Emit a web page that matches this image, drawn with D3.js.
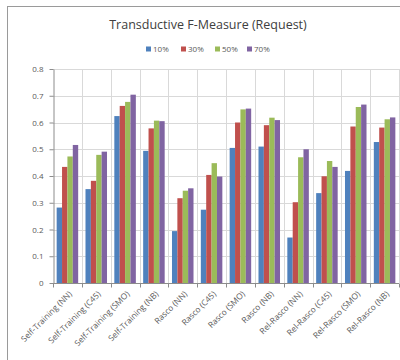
<!DOCTYPE html>
<html>
<head>
<meta charset="utf-8">
<script src="https://cdn.jsdelivr.net/npm/d3@7"></script>
<style>
  html, body { margin: 0; padding: 0; background: #fff; }
  svg { display: block; font-family: "Open Sans", "Liberation Sans", sans-serif; }
</style>
</head>
<body>
<svg id="chart" width="400" height="360"></svg>
<script>
// Classifier / method combinations on the x axis
const categories = [
  "Self-Training (NN)", "Self-Training (C45)", "Self-Training (SMO)", "Self-Training (NB)",
  "Rasco (NN)", "Rasco (C45)", "Rasco (SMO)", "Rasco (NB)",
  "Rel-Rasco (NN)", "Rel-Rasco (C45)", "Rel-Rasco (SMO)", "Rel-Rasco (NB)"
];

// Labeled-data ratios (one series each)
const seriesNames = ["10%", "30%", "50%", "70%"];
const seriesColors = ["#4F81BD", "#C0504D", "#9BBB59", "#8064A2"];

// F-measure values per series, in category order
const values10 = [0.282, 0.351, 0.624, 0.494, 0.194, 0.274, 0.505, 0.510, 0.170, 0.336, 0.419, 0.527];
const values30 = [0.434, 0.382, 0.662, 0.578, 0.317, 0.404, 0.600, 0.590, 0.302, 0.399, 0.585, 0.581];
const values50 = [0.473, 0.479, 0.677, 0.607, 0.345, 0.448, 0.649, 0.618, 0.470, 0.456, 0.658, 0.612];
const values70 = [0.516, 0.491, 0.704, 0.605, 0.354, 0.398, 0.652, 0.609, 0.500, 0.434, 0.667, 0.619];

const yTicks = [0, 0.1, 0.2, 0.3, 0.4, 0.5, 0.6, 0.7, 0.8];
const titleText = "Transductive F-Measure (Request)";

const seriesValues = [values10, values30, values50, values70];
const rows = categories.map((c, i) => ({
  category: c,
  vals: seriesNames.map((s, k) => ({ key: s, value: seriesValues[k][i], color: seriesColors[k] }))
}));

const svg = d3.select("#chart");

// chart frame
svg.append("rect")
  .attr("x", 7.5).attr("y", 6.5)
  .attr("width", 420).attr("height", 380)
  .attr("fill", "#fff")
  .attr("stroke", "#9a9a9a")
  .attr("stroke-width", 1);

const plot = { left: 53, right: 399, top: 69, bottom: 283 };

const x = d3.scaleBand()
  .domain(categories)
  .range([plot.left, plot.right])
  .paddingInner(0)
  .paddingOuter(0);

const xs = d3.scaleBand()
  .domain(seriesNames)
  .range([0, x.bandwidth()])
  .paddingInner(0)
  .paddingOuter(0.68);

const y = d3.scaleLinear()
  .domain([0, 0.8])
  .range([plot.bottom, plot.top]);

// horizontal gridlines
svg.append("g")
  .selectAll("line")
  .data(yTicks.filter(t => t > 0))
  .join("line")
  .attr("x1", plot.left).attr("x2", plot.right)
  .attr("y1", d => Math.round(y(d)) + 0.5)
  .attr("y2", d => Math.round(y(d)) + 0.5)
  .attr("stroke", "#d9d9d9");

// vertical gridlines between categories
const boundaries = categories.map(c => x(c)).concat([plot.right]).slice(1);
svg.append("g")
  .selectAll("line")
  .data(boundaries)
  .join("line")
  .attr("x1", d => Math.round(d) + 0.5).attr("x2", d => Math.round(d) + 0.5)
  .attr("y1", plot.top).attr("y2", plot.bottom)
  .attr("stroke", "#d9d9d9");

// bars
const groups = svg.append("g")
  .selectAll("g")
  .data(rows)
  .join("g")
  .attr("transform", d => `translate(${x(d.category)},0)`);

groups.selectAll("rect")
  .data(d => d.vals)
  .join("rect")
  .attr("x", d => xs(d.key))
  .attr("width", xs.bandwidth())
  .attr("y", d => y(d.value))
  .attr("height", d => y(0) - y(d.value))
  .attr("fill", d => d.color);

// y axis
const yAxis = svg.append("g")
  .attr("transform", `translate(${plot.left + 0.5},0)`)
  .call(d3.axisLeft(y).tickValues(yTicks).tickFormat(d => d === 0 ? "0" : d3.format(".1f")(d)).tickSizeOuter(0).tickSizeInner(4).tickPadding(6));
yAxis.select(".domain").attr("stroke", "#8c8c8c");
yAxis.selectAll(".tick line").attr("stroke", "#8c8c8c");
yAxis.selectAll(".tick text")
  .attr("fill", "#595959")
  .style("font-size", "8px")
  .style("font-family", "'Open Sans', sans-serif");

// x axis baseline and boundary tick marks
const xAxis = svg.append("g")
  .attr("transform", `translate(0,${plot.bottom + 0.5})`);
xAxis.append("line")
  .attr("x1", plot.left).attr("x2", plot.right)
  .attr("stroke", "#8c8c8c");
xAxis.selectAll("line.tk")
  .data([plot.left].concat(boundaries))
  .join("line")
  .attr("class", "tk")
  .attr("x1", d => Math.round(d) + 0.5).attr("x2", d => Math.round(d) + 0.5)
  .attr("y1", 0).attr("y2", 4)
  .attr("stroke", "#8c8c8c");

// rotated category labels
xAxis.selectAll("text")
  .data(categories)
  .join("text")
  .attr("transform", d => `translate(${x(d) + x.bandwidth() / 2 + 3},${9}) rotate(-45)`)
  .attr("text-anchor", "end")
  .attr("dy", "0.35em")
  .attr("fill", "#595959")
  .style("font-size", "8.3px")
  .text(d => d);

// title
svg.append("text")
  .attr("x", 208)
  .attr("y", 29)
  .attr("text-anchor", "middle")
  .attr("fill", "#404040")
  .style("font-size", "12.5px")
  .text(titleText);

// legend
const legend = svg.append("g").attr("transform", "translate(146,0)");
const legendX = [0, 35, 69, 101];
const items = legend.selectAll("g")
  .data(seriesNames)
  .join("g")
  .attr("transform", (d, i) => `translate(${legendX[i]},0)`);
items.append("rect")
  .attr("x", 0).attr("y", 46.5)
  .attr("width", 5).attr("height", 5)
  .attr("fill", (d, i) => seriesColors[i]);
items.append("text")
  .attr("x", 7).attr("y", 52)
  .attr("fill", "#595959")
  .style("font-size", "8px")
  .text(d => d);
</script>
</body>
</html>
